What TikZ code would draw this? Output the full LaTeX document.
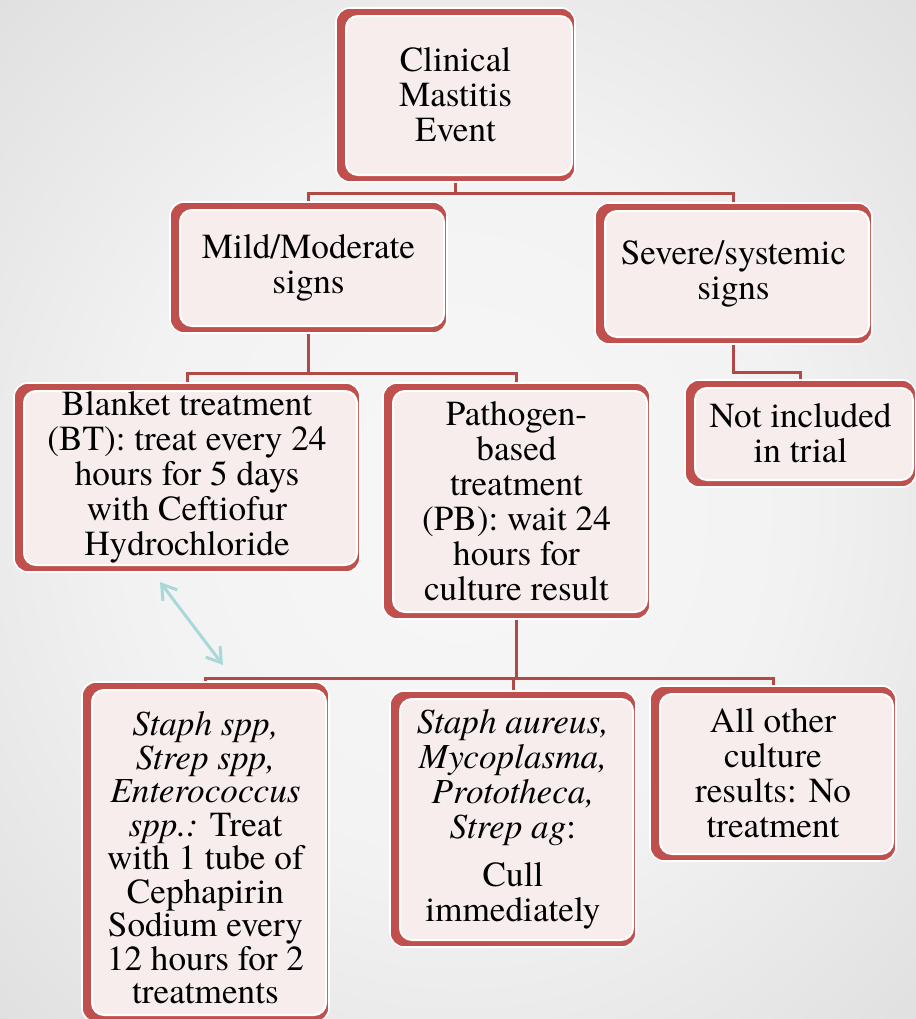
\documentclass[tikz,border=0pt]{standalone}
\usepackage{fontspec}
\setmainfont{texgyretermes}[Extension=.otf, UprightFont=*-regular, ItalicFont=*-italic, BoldFont=*-bold, BoldItalicFont=*-bolditalic]
\usetikzlibrary{arrows.meta,calc}
\definecolor{boxred}{HTML}{C0504D}
\definecolor{linered}{HTML}{B04A47}
\definecolor{pinkbg}{HTML}{F7EDED}
\definecolor{arrowblue}{HTML}{A8D8DA}
\pgfdeclareradialshading{bgshade}{\pgfpoint{0bp}{0bp}}{color(0bp)=(white!97!black); color(18bp)=(white!95!black); color(45bp)=(white!84!black); color(71bp)=(white!68!black)}
\tikzset{
  frame/.style={rectangle, rounded corners=7pt, fill=boxred, draw=white, line width=0.8pt,
    inner sep=0pt, align=center, font=\fontsize{17.6}{17.5}\selectfont,
    path picture={\draw[pinkbg, fill=pinkbg, rounded corners=6pt, line width=0.1pt]
      ([xshift=5pt,yshift=-4pt]path picture bounding box.north west) rectangle
      ([xshift=-1.5pt,yshift=3.5pt]path picture bounding box.south east);
      \draw[white, rounded corners=6pt, line width=1pt]
      ([xshift=5pt,yshift=-4pt]path picture bounding box.north west) rectangle
      ([xshift=-1.5pt,yshift=3.5pt]path picture bounding box.south east);}},
  conn/.style={draw=linered, line width=1.5pt},
  biarrow/.style={draw=arrowblue, line width=1.5pt, {Straight Barb[length=7pt,width=9pt]}-{Straight Barb[length=7pt,width=9pt]}}
}
\begin{document}
\begin{tikzpicture}[x=0.5pt,y=-0.5pt]
\shade[shading=bgshade] (0,0) rectangle (916,1019);
\useasboundingbox (0,0) rectangle (916,1019);

\node[frame, minimum width=119.5pt, minimum height=87pt] (clin) at (455.5,95) {Clinical\\Mastitis\\Event};
\node[frame, minimum width=138.5pt, minimum height=65.5pt] (mild) at (308.5,267.5) {Mild/Moderate\\signs};
\node[frame, minimum width=138.5pt, minimum height=70.5pt] (sev) at (733.5,273.5) {Severe/systemic\\signs};
\node[frame, minimum width=173pt, minimum height=94.5pt] (blank) at (187,477.5) {Blanket treatment\\(BT): treat every 24\\hours for 5 days\\with Ceftiofur\\Hydrochloride};
\node[frame, minimum width=133.5pt, minimum height=118pt] (path) at (516.5,501) {Pathogen-\\based\\treatment\\(PB): wait 24\\hours for\\culture result};
\node[frame, minimum width=115.5pt, minimum height=53.5pt] (notin) at (800.5,433.5) {Not included\\in trial};
\node[frame, font=\fontsize{17.6}{16.75}\selectfont, minimum width=123.5pt, minimum height=170pt] (spp) at (205.5,852) {\rule{0pt}{18pt}\textit{Staph spp,}\\\textit{Strep spp,}\\\textit{Enterococcus}\\\textit{spp.:} Treat\\with 1 tube of\\Cephapirin\\Sodium every\\12 hours for 2\\treatments};
\node[frame, minimum width=123pt, minimum height=128pt] (aur) at (513,819) {\textit{Staph aureus,}\\\textit{Mycoplasma,}\\\textit{Prototheca,}\\\textit{Strep ag}:\\[6.5pt]Cull\\immediately};
\node[frame, minimum width=123pt, minimum height=87.5pt] (oth) at (773,773.5) {All other\\culture\\results: No\\treatment};

\path (clin.south) ++(0,11) coordinate (b1);
\path (mild.south) ++(0,40) coordinate (b2);
\path (sev.south) ++(0,28) coordinate (b3);
\path (path.south) ++(0,59) coordinate (b4);

\draw[conn] (clin.south) -- (b1);
\draw[conn] (mild.north) |- (b1) -| (sev.north);
\draw[conn] (mild.south) -- (b2);
\draw[conn] (blank.north) |- (b2) -| (path.north);
\draw[conn] (sev.south) -- (b3) -| (notin.north);
\draw[conn] (path.south) -- (b4);
\draw[conn] (spp.north) |- (b4) -| (oth.north);
\draw[conn] (b4) -| (aur.north);

\coordinate (a1) at (160,582);
\coordinate (a2) at (223,665);
\draw[biarrow] (a1) -- (a2);
\end{tikzpicture}
\end{document}
